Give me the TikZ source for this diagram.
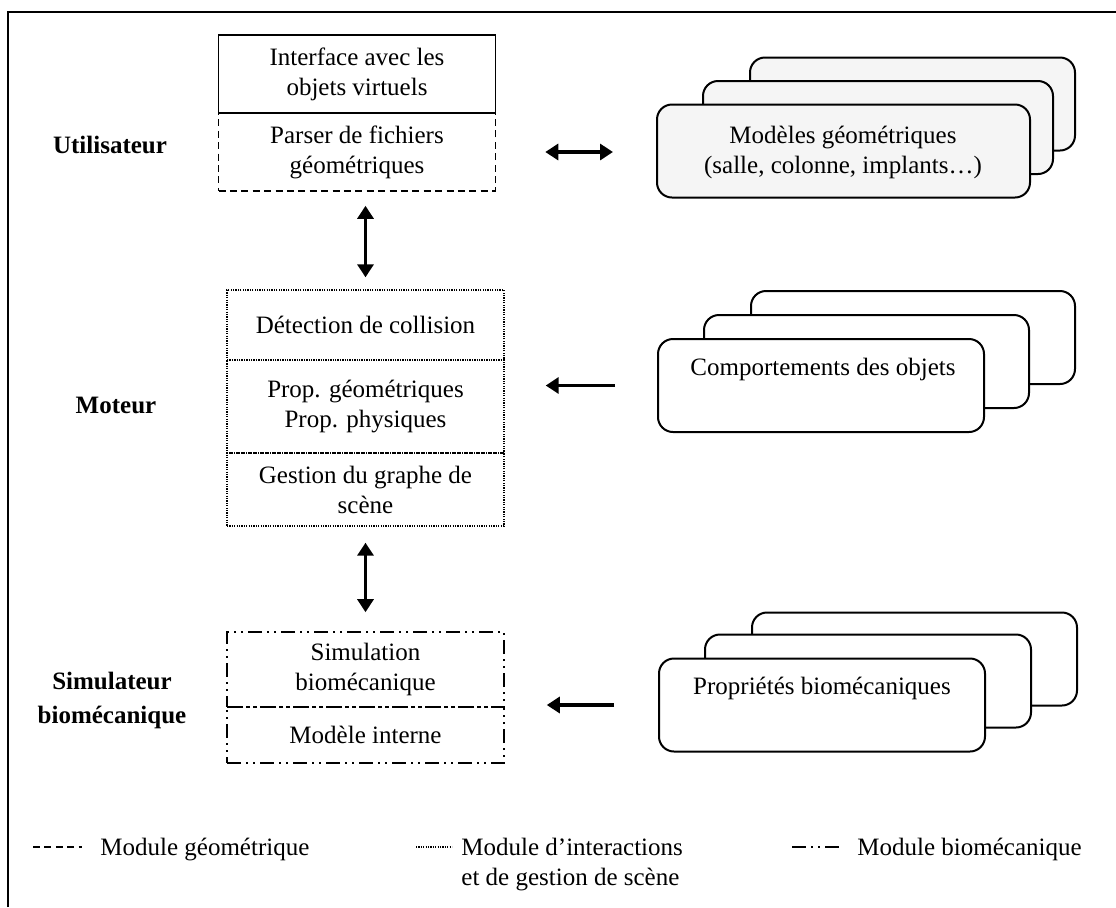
\documentclass[tikz,border=0pt]{standalone}
\usepackage{fontspec}
\setmainfont{Liberation Serif}
\usetikzlibrary{arrows.meta}
\usetikzlibrary{positioning}

\tikzset{
    txt/.style={font=\fontsize{12.5}{15}\selectfont, align=center, inner sep=0pt},
    part/.style={txt, draw, line width=0.7pt, minimum width=138.5pt},
    geom/.style={line width=0.8pt, dash pattern=on 3.5pt off 2.2pt},
    inter/.style={line width=0.7pt, dash pattern=on 0.6pt off 0.6pt},
    bio/.style={line width=0.8pt, dash pattern=on 7pt off 2.5pt on 1pt off 2.5pt on 1pt off 2.5pt},
    sheet/.style={draw, line width=1pt, rounded corners=7.5pt, fill=white, minimum height=46.5pt},
    level/.style={font=\fontsize{12.5}{17}\selectfont\bfseries, align=center, inner sep=0pt},
    link/.style={line width=1.8pt, {Triangle[width=8pt,length=6.5pt]}-{Triangle[width=8pt,length=6.5pt]}},
    feed/.style={line width=1.8pt, -{Triangle[width=8pt,length=6.5pt]}},
}

\begin{document}
\begin{tikzpicture}[x=0.5pt,y=-0.5pt]
            \useasboundingbox (0,0) rectangle (1116,907);
            \draw[line width=1.4pt] (8,907) |- (1116,12);

            \node[part, geom, minimum height=39pt] (parser) at (357,152) {Parser de fichiers\\géométriques};
            \node[part, minimum height=39pt] (iface) at (357,74) {Interface avec les\\objets virtuels};

            \node[part, inter, minimum height=35pt] (detect) at (365.5,325) {Détection de collision};
            \node[part, inter, minimum height=46.5pt] (props) at (365.5,406.5) {Prop. géométriques\\Prop. physiques};
            \node[part, inter, minimum height=36.5pt] (scene) at (365.5,489.5) {Gestion du graphe de\\scène};

            \node[part, bio, minimum height=37.5pt] (sim) at (365.5,669.5) {Simulation\\biomécanique};
            \node[part, bio, minimum height=28pt] (intern) at (365.5,735) {Modèle interne};

            \node[level] (user) at (110,145) {Utilisateur};
            \node[level] (engine) at (116,405) {Moteur};
            \node[level] (simu) at (112,700) {Simulateur\\biomécanique};

            \node[sheet, fill=black!4, minimum width=162.5pt] (backA) at (912.5,104) {};
            \node[sheet, fill=black!4, minimum width=175pt] (midA) at (878,127.5) {};
            \node[sheet, fill=black!4, minimum width=186.5pt] (frontA) at (843.5,151) {};
            \node[txt] (modtxt) at (843,152) {Modèles géométriques\\(salle, colonne, implants\ldots)};

            \node[sheet, minimum width=162pt] (backB) at (913,337.5) {};
            \node[sheet, minimum width=162.5pt] (midB) at (866.5,361.5) {};
            \node[sheet, minimum width=163pt] (frontB) at (821,385.5) {};
            \node[txt] (comptxt) at (823,369) {Comportements des objets};

            \node[sheet, minimum width=162.5pt] (backC) at (914.5,659) {};
            \node[sheet, minimum width=163pt] (midC) at (868,681) {};
            \node[sheet, minimum width=163pt] (frontC) at (822,705) {};
            \node[txt] (biotxt) at (822,688) {Propriétés biomécaniques};

            \draw[link, shorten <=7pt, shorten >=6pt] (detect.north |- parser.south) -- (detect.north);
            \draw[link, shorten <=8pt, shorten >=9.5pt] (scene.south) -- (sim.north);
            \draw[link, shorten <=24.5pt, shorten >=21.5pt] (parser.east) -- (parser.east -| frontA.west);
            \draw[feed, shorten <=21pt, shorten >=20.5pt] (frontB.west) -- (frontB.west -| props.east);
            \draw[feed, shorten <=22pt, shorten >=21pt] (frontC.west) -- (frontC.west -| sim.east);

            \draw[geom] (33,847) -- (82,847);
            \node[txt, anchor=base west] (lgeom) at (100,855) {Module géométrique};
            \draw[inter] (416,847) -- (452,847);
            \node[txt, anchor=base west] (linter) at (461,855) {Module d'interactions};
            \node[txt, anchor=base west] (lscene) at (461,885) {et de gestion de scène};
            \draw[bio] (792,847) -- (840,847);
            \node[txt, anchor=base west] (lbio) at (857,855) {Module biomécanique};
\end{tikzpicture}
\end{document}
